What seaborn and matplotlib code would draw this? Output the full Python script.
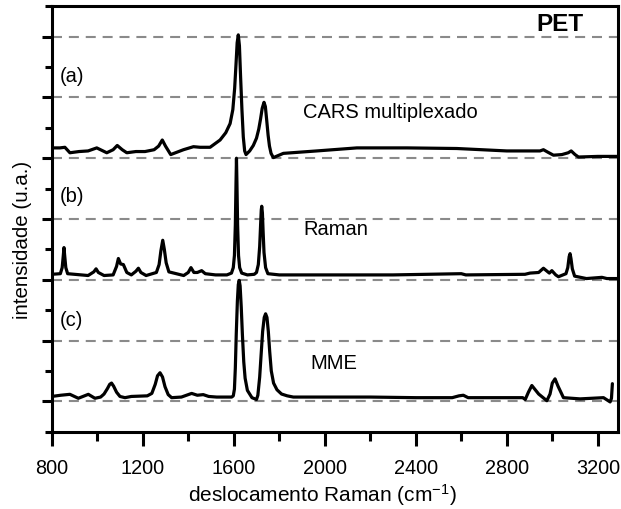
import matplotlib
matplotlib.use("Agg")
import matplotlib.pyplot as plt
from matplotlib.ticker import MultipleLocator, NullFormatter
import seaborn as sns
import pandas as pd

# ---- data ----
cars_x = [800, 836, 858, 880, 920, 960, 998, 1042, 1070, 1088, 1110, 1130, 1170, 1210, 1250,
          1270, 1286, 1300, 1323, 1379, 1423, 1452, 1496, 1540, 1565, 1584, 1596, 1604, 1610,
          1615, 1620, 1625, 1630, 1636, 1642, 1648, 1654, 1670, 1686, 1700, 1710, 1718, 1725,
          1733, 1739, 1745, 1751, 1757, 1764, 1774, 1818, 1891, 1965, 2141, 2361, 2580, 2800,
          2900, 2946, 2961, 2980, 3005, 3042, 3070, 3083, 3100, 3115, 3200, 3290]
cars_y = [4.17, 4.17, 4.18, 4.09, 4.11, 4.12, 4.17, 4.09, 4.14, 4.21, 4.14, 4.09, 4.11, 4.11, 4.14,
          4.20, 4.30, 4.20, 4.06, 4.14, 4.19, 4.18, 4.18, 4.30, 4.42, 4.57, 4.80, 5.15, 5.55,
          5.90, 6.03, 5.85, 5.35, 4.80, 4.35, 4.12, 4.06, 4.12, 4.21, 4.33, 4.48, 4.65, 4.82,
          4.92, 4.85, 4.62, 4.38, 4.20, 4.08, 4.01, 4.08, 4.10, 4.12, 4.17, 4.17, 4.16, 4.12,
          4.12, 4.12, 4.14, 4.10, 4.05, 4.06, 4.09, 4.12, 4.06, 4.02, 4.03, 4.03]

raman_x = [800, 838, 846, 851, 854, 857, 862, 870, 960, 985, 995, 1005, 1030, 1070, 1085, 1093,
           1103, 1115, 1130, 1150, 1170, 1181, 1192, 1215, 1260, 1272, 1280, 1288, 1295, 1303,
           1315, 1380, 1400, 1412, 1425, 1440, 1459, 1475, 1520, 1570, 1590, 1598, 1603, 1607,
           1610, 1612, 1614, 1617, 1621, 1626, 1635, 1660, 1690, 1700, 1708, 1714, 1718, 1721,
           1723, 1726, 1729, 1733, 1740, 1750, 1800, 2000, 2300, 2600, 2620, 2880, 2902, 2940,
           2961, 2987, 2998, 3015, 3027, 3060, 3068, 3074, 3078, 3082, 3088, 3098, 3150, 3218,
           3240, 3290]
raman_y = [2.09, 2.10, 2.20, 2.40, 2.53, 2.40, 2.20, 2.10, 2.07, 2.13, 2.18, 2.12, 2.07, 2.08, 2.22,
           2.35, 2.26, 2.25, 2.12, 2.08, 2.14, 2.19, 2.12, 2.07, 2.12, 2.25, 2.48, 2.65, 2.50,
           2.28, 2.13, 2.07, 2.12, 2.20, 2.12, 2.12, 2.15, 2.10, 2.08, 2.08, 2.11, 2.20, 2.40,
           2.90, 3.60, 4.00, 3.60, 2.90, 2.40, 2.20, 2.11, 2.08, 2.09, 2.12, 2.25, 2.55, 2.90,
           3.15, 3.21, 3.10, 2.80, 2.45, 2.20, 2.10, 2.08, 2.08, 2.08, 2.10, 2.08, 2.09, 2.11,
           2.12, 2.19, 2.11, 2.15, 2.08, 2.05, 2.10, 2.20, 2.38, 2.43, 2.35, 2.18, 2.06, 2.02,
           2.04, 2.02, 2.02]

mme_x = [800, 840, 880, 917, 961, 990, 1015, 1030, 1045, 1055, 1063, 1072, 1085, 1100, 1122,
         1150, 1220, 1240, 1255, 1265, 1276, 1287, 1298, 1312, 1327, 1370, 1400, 1415, 1440,
         1466, 1490, 1525, 1591, 1598, 1603, 1607, 1611, 1616, 1620, 1624, 1628, 1633, 1638,
         1644, 1650, 1660, 1680, 1700, 1706, 1714, 1720, 1727, 1734, 1740, 1746, 1752, 1758,
         1765, 1775, 1790, 1810, 1835, 1862, 2000, 2200, 2400, 2560, 2590, 2609, 2630, 2700,
         2844, 2870, 2881, 2895, 2910, 2940, 2976, 2990, 3000, 3012, 3025, 3049, 3122, 3225,
         3254, 3260, 3264]
mme_y = [0.08, 0.10, 0.115, 0.05, 0.115, 0.05, 0.07, 0.12, 0.21, 0.28, 0.30, 0.25, 0.15, 0.08, 0.06,
         0.08, 0.09, 0.13, 0.28, 0.42, 0.47, 0.40, 0.24, 0.11, 0.06, 0.07, 0.11, 0.13, 0.10,
         0.11, 0.08, 0.07, 0.07, 0.09, 0.20, 0.55, 1.10, 1.65, 1.92, 1.99, 1.90, 1.55, 1.10,
         0.65, 0.38, 0.18, 0.06, 0.03, 0.10, 0.40, 0.75, 1.15, 1.38, 1.44, 1.38, 1.15, 0.82,
         0.50, 0.30, 0.19, 0.12, 0.09, 0.07, 0.07, 0.07, 0.06, 0.06, 0.09, 0.10, 0.06, 0.06,
         0.06, 0.06, 0.03, 0.15, 0.26, 0.12, 0.01, 0.12, 0.30, 0.37, 0.25, 0.06, 0.04, 0.06,
         -0.01, 0.05, 0.29]

grid_levels = [0, 1, 2, 3, 4, 5, 6]

panel_labels = ["(a)", "(b)", "(c)"]
panel_label_y = [5.36, 3.39, 1.35]
series_names = ["CARS multiplexado", "Raman", "MME"]
series_name_pos = [(1905, 4.77), (1905, 2.84), (1936, 0.64)]

# ---- styling ----
sns.set_style("ticks")
plt.rcParams["font.family"] = ["Liberation Sans", "DejaVu Sans"]
plt.rcParams["mathtext.fontset"] = "custom"
plt.rcParams["mathtext.rm"] = "Liberation Sans"
plt.rcParams["mathtext.default"] = "regular"
plt.rcParams.update({"text.color": "black", "axes.labelcolor": "black",
                     "xtick.color": "black", "ytick.color": "black",
                     "axes.edgecolor": "black"})

W, H = 621, 510
fig = plt.figure(figsize=(W / 100, H / 100), dpi=100)
left, right, top, bottom = 51.7, 618.3, 7.3, 432.7
ax = fig.add_axes([left / W, 1 - bottom / H, (right - left) / W, (bottom - top) / H])

for v in grid_levels:
    ax.axhline(v, color="#8a8a8a", lw=1.5, ls=(0, (4.8, 3.3)), zorder=1)

for xs, ys in [(cars_x, cars_y), (raman_x, raman_y), (mme_x, mme_y)]:
    df = pd.DataFrame({"x": xs, "y": ys})
    sns.lineplot(data=df, x="x", y="y", ax=ax, color="black", lw=2.3,
                 estimator=None, sort=False, zorder=3)

ax.set_xlim(800, 3290)
ax.set_ylim(-0.5, 6.5)
ax.xaxis.set_major_locator(MultipleLocator(400))
ax.xaxis.set_minor_locator(MultipleLocator(200))
ax.yaxis.set_major_locator(MultipleLocator(1))
ax.yaxis.set_minor_locator(MultipleLocator(0.5))
ax.yaxis.set_major_formatter(NullFormatter())

for s in ax.spines.values():
    s.set_linewidth(2.2)
    s.set_color("black")
    s.set_visible(True)
ax.tick_params(axis="x", which="major", length=10, width=2.2, direction="out",
               labelsize=14.3, pad=9)
ax.tick_params(axis="x", which="minor", length=6.5, width=2.2, direction="out")
ax.tick_params(axis="y", which="major", length=7.5, width=2.2, direction="out")
ax.tick_params(axis="y", which="minor", length=5, width=2.2, direction="out")

ax.set_xlabel(r"deslocamento Raman (cm$^{-1}$)", fontsize=15)
ax.xaxis.set_label_coords((322 - left) / (right - left), -(495 - bottom) / (bottom - top))
ax.xaxis.label.set_va("center")
ax.set_ylabel("intensidade (u.a.)", fontsize=14.8)
ax.yaxis.set_label_coords(-(left - 22) / (right - left), (bottom - 240) / (bottom - top))
ax.yaxis.label.set_va("center")

for lab, yv in zip(panel_labels, panel_label_y):
    ax.text(836, yv, lab, fontsize=14.5, va="center", ha="left", zorder=4)
for name, (xv, yv) in zip(series_names, series_name_pos):
    ax.text(xv, yv, name, fontsize=14.5, va="center", ha="left", zorder=4)
ax.text(3135, 6.21, "PET", fontsize=17.5, fontweight="bold", va="center", ha="right", zorder=4)

fig.savefig("out.png", dpi=100)
